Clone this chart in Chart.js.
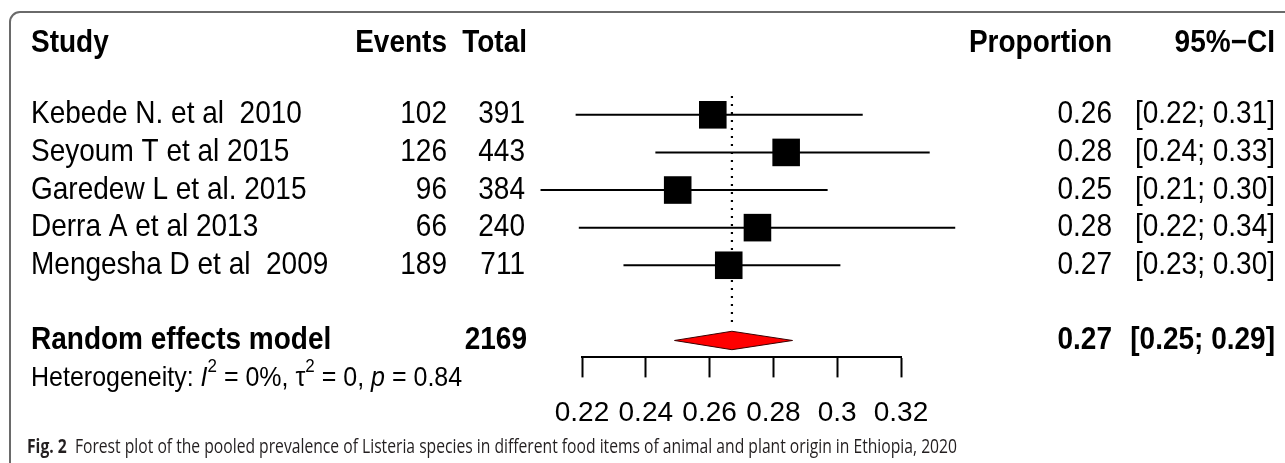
<!DOCTYPE html>
<html>
<head>
<meta charset="utf-8">
<script src="https://cdn.jsdelivr.net/npm/chart.js@4.4.1/dist/chart.umd.min.js"></script>
<style>
  html, body { margin: 0; padding: 0; background: #fff; overflow: hidden; }
  #wrap { position: relative; width: 1285px; height: 463px; }
  #frame { position: absolute; left: 9px; top: 11px; width: 1320px; height: 500px;
           border: 2px solid #6a6a6a; border-radius: 11px; box-sizing: border-box; }
  canvas { position: absolute; left: 0; top: 0; }
</style>
</head>
<body>
<div id="wrap">
  <div id="frame"></div>
  <canvas id="forest" width="1285" height="463"></canvas>
</div>
<script>
// study rows
const studies = ['Kebede N. et al  2010', 'Seyoum T et al 2015', 'Garedew L et al. 2015', 'Derra A et al 2013', 'Mengesha D et al  2009'];
const events = [102, 126, 96, 66, 189];
const totals = [391, 443, 384, 240, 711];
const proportion = [0.261, 0.284, 0.250, 0.275, 0.266];
const ciLow = [0.218, 0.243, 0.207, 0.219, 0.233];
const ciHigh = [0.308, 0.329, 0.297, 0.337, 0.301];
const propLabels = ['0.26', '0.28', '0.25', '0.28', '0.27'];
const ciLabels = ['[0.22; 0.31]', '[0.24; 0.33]', '[0.21; 0.30]', '[0.22; 0.34]', '[0.23; 0.30]'];

// random effects model
const pooledEst = 0.267;
const pooledLow = 0.249;
const pooledHigh = 0.286;
const pooledTotal = 2169;
const pooledLabel = '0.27';
const pooledCiLabel = '[0.25; 0.29]';

// x axis
const tickValues = [0.22, 0.24, 0.26, 0.28, 0.30, 0.32];
const tickLabels = ['0.22', '0.24', '0.26', '0.28', '0.3', '0.32'];

const FONT = "'Liberation Sans', Arial, sans-serif";
const HEADER_ROW = -1.9, POOLED_ROW = 6, HET_ROW = 7;
const STRETCH = 1.12;   // the figure text is a bit taller than Arial

const ciSets = studies.map((s, i) => ({
  label: s,
  data: [{ x: ciLow[i], y: i }, { x: ciHigh[i], y: i }],
  showLine: true,
  clip: false,
  borderColor: '#000',
  borderWidth: 2,
  pointRadius: 0,
  order: 3
}));

const data = {
  datasets: [
    ...ciSets,
    {
      label: 'estimate',
      data: proportion.map((p, i) => ({ x: p, y: i })),
      clip: false,
      pointStyle: 'rect',
      pointRadius: 19.5,
      pointHoverRadius: 19.5,
      backgroundColor: '#000',
      borderWidth: 0,
      order: 1
    },
    {
      label: 'pooled line',
      data: [{ x: pooledEst, y: -0.5 }, { x: pooledEst, y: 5.6 }],
      showLine: true,
      clip: false,
      borderColor: '#000',
      borderWidth: 2.2,
      borderDash: [2, 6],
      pointRadius: 0,
      order: 2
    },
    {
      label: 'pooled',
      data: [
        { x: pooledLow, y: POOLED_ROW },
        { x: pooledEst, y: POOLED_ROW - 0.245 },
        { x: pooledHigh, y: POOLED_ROW },
        { x: pooledEst, y: POOLED_ROW + 0.245 },
        { x: pooledLow, y: POOLED_ROW }
      ],
      showLine: true,
      clip: false,
      fill: 'shape',
      backgroundColor: '#ff0000',
      borderColor: '#3a0000',
      borderWidth: 1,
      pointRadius: 0,
      order: 0
    }
  ]
};

function put(ctx, txt, x, y, align, weight, size) {
  ctx.save();
  ctx.translate(x, y);
  ctx.scale(1, STRETCH);
  ctx.font = (weight || 'normal') + ' ' + (size || 28) + 'px ' + FONT;
  ctx.textAlign = align;
  ctx.textBaseline = 'middle';
  ctx.fillStyle = '#000';
  ctx.fillText(txt, 0, 0);
  ctx.restore();
}

const columns = {
  id: 'columns',
  afterDraw(chart) {
    const ctx = chart.ctx;
    const ys = chart.scales.y;
    const row = r => ys.getPixelForValue(r);

    // headers
    put(ctx, 'Study', 31, row(HEADER_ROW), 'left', 'bold');
    put(ctx, 'Events', 447, row(HEADER_ROW), 'right', 'bold');
    put(ctx, 'Total', 527, row(HEADER_ROW), 'right', 'bold');
    put(ctx, 'Proportion', 1112, row(HEADER_ROW), 'right', 'bold');
    put(ctx, '95%\u2212CI', 1275, row(HEADER_ROW), 'right', 'bold');

    studies.forEach((s, i) => {
      put(ctx, s, 31, row(i), 'left');
      put(ctx, String(events[i]), 447, row(i), 'right');
      put(ctx, String(totals[i]), 525, row(i), 'right');
      put(ctx, propLabels[i], 1112, row(i), 'right');
      put(ctx, ciLabels[i], 1275, row(i), 'right');
    });

    put(ctx, 'Random effects model', 31, row(POOLED_ROW), 'left', 'bold');
    put(ctx, String(pooledTotal), 527, row(POOLED_ROW), 'right', 'bold');
    put(ctx, pooledLabel, 1112, row(POOLED_ROW), 'right', 'bold');
    put(ctx, pooledCiLabel, 1275, row(POOLED_ROW), 'right', 'bold');

    // heterogeneity line with italics and superscripts
    const hy = row(HET_ROW);
    const parts = [
      ['Heterogeneity: ', 'normal', 25, 0],
      ['I', 'italic', 25, 0],
      ['2', 'normal', 17, -11],
      [' = 0%, ', 'normal', 25, 0],
      ['\u03c4', 'normal', 25, 0],
      ['2', 'normal', 17, -11],
      [' = 0, ', 'normal', 25, 0],
      ['p', 'italic', 25, 0],
      [' = 0.84', 'normal', 25, 0]
    ];
    let x = 31;
    parts.forEach(([t, st, sz, dy]) => {
      ctx.save();
      ctx.font = st + ' ' + sz + 'px ' + FONT;
      const w = ctx.measureText(t).width;
      ctx.restore();
      put(ctx, t, x, hy + dy, 'left', st, sz);
      x += w;
    });

    // caption
    const capFont = "'Open Sans', 'Noto Sans', sans-serif";
    const bold = 'Fig. 2';
    const rest = '  Forest plot of the pooled prevalence of Listeria species in different food items of animal and plant origin in Ethiopia, 2020';
    ctx.save();
    ctx.font = 'bold 20px ' + capFont;
    const wb = ctx.measureText(bold).width;
    ctx.font = '20px ' + capFont;
    const wr = ctx.measureText(rest).width;
    const sx = (957 - 27) / (wb + wr);
    ctx.translate(27, 447);
    ctx.scale(sx, 1);
    ctx.fillStyle = '#231f20';
    ctx.textBaseline = 'middle';
    ctx.font = 'bold 20px ' + capFont;
    ctx.fillText(bold, 0, 0);
    ctx.font = '20px ' + capFont;
    ctx.fillText(rest, wb, 0);
    ctx.restore();
  }
};

new Chart(document.getElementById('forest'), {
  type: 'scatter',
  data: data,
  options: {
    responsive: false,
    animation: false,
    events: [],
    layout: { padding: { left: 582, right: 384, top: 96, bottom: 14 } },
    plugins: { legend: { display: false }, tooltip: { enabled: false } },
    elements: { line: { tension: 0 } },
    scales: {
      x: {
        type: 'linear',
        min: 0.22,
        max: 0.32,
        afterBuildTicks: s => { s.ticks = tickValues.map(v => ({ value: v })); },
        ticks: {
          callback: (v, i) => tickLabels[i],
          autoSkip: false,
          maxRotation: 0,
          padding: 19,
          color: '#000',
          font: { family: FONT, size: 28 }
        },
        grid: { drawOnChartArea: false, drawTicks: true, tickLength: 20, tickWidth: 2, tickColor: '#000' },
        border: { display: true, color: '#000', width: 2 }
      },
      y: {
        type: 'linear',
        reverse: true,
        min: -0.5,
        max: 6.45,
        display: false
      }
    }
  },
  plugins: [columns]
});
</script>
</body>
</html>
